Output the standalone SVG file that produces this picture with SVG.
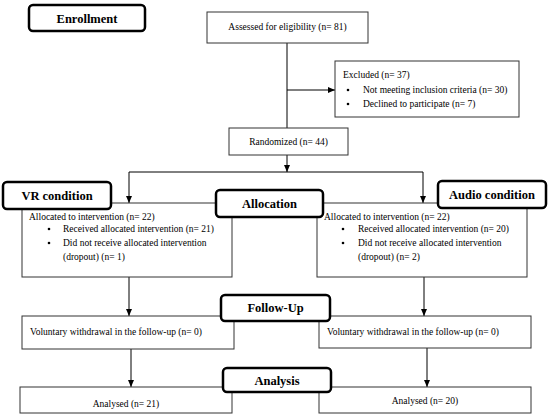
<svg xmlns="http://www.w3.org/2000/svg" width="550" height="415" viewBox="0 0 550 415">
<defs>
<marker id="arr" markerWidth="8" markerHeight="8" refX="7" refY="4" orient="auto" markerUnits="userSpaceOnUse">
<path d="M0,1 L7,4 L0,7 Z" fill="#000"/>
</marker>
<style>
.box{fill:#fff;stroke:#333;stroke-width:1}
.hdr{fill:#fff;stroke:#000;stroke-width:2.5}
.t{font-family:"Liberation Serif","Times New Roman",serif;font-size:9.5px;fill:#000}
.h{font-family:"Liberation Serif","Times New Roman",serif;font-size:12.5px;font-weight:bold;fill:#000;text-anchor:middle}
.c{text-anchor:middle}
.ln{stroke:#000;stroke-width:1;fill:none}
</style>
</defs>
<rect width="550" height="415" fill="#fff"/>
<g id="connectors">
<line class="ln" x1="287" y1="43" x2="287" y2="128"/>
<line class="ln" x1="287" y1="90" x2="335" y2="90" marker-end="url(#arr)"/>
<line class="ln" x1="287" y1="155" x2="287" y2="172" marker-end="url(#arr)"/>
<polyline class="ln" points="129,172 423,172"/>
<line class="ln" x1="129" y1="172" x2="129" y2="203" marker-end="url(#arr)"/>
<line class="ln" x1="423" y1="172" x2="423" y2="203" marker-end="url(#arr)"/>
<line class="ln" x1="129" y1="277" x2="129" y2="316" marker-end="url(#arr)"/>
<line class="ln" x1="424" y1="277" x2="424" y2="316" marker-end="url(#arr)"/>
<line class="ln" x1="131" y1="349" x2="131" y2="387" marker-end="url(#arr)"/>
<line class="ln" x1="427" y1="348" x2="427" y2="387" marker-end="url(#arr)"/>
</g>
<g id="assessed">
<rect class="box" x="207" y="12" width="161" height="31"/>
<text class="t c" x="287.5" y="30">Assessed for eligibility (n= 81)</text>
</g>
<g id="excluded">
<rect class="box" x="335" y="61" width="184" height="56"/>
<text class="t" x="343" y="78">Excluded (n= 37)</text>
<circle cx="348" cy="90" r="1.3"/>
<text class="t" x="363" y="93">Not meeting inclusion criteria (n= 30)</text>
<circle cx="348" cy="104" r="1.3"/>
<text class="t" x="363" y="107">Declined to participate (n= 7)</text>
</g>
<g id="randomized">
<rect class="box" x="229" y="128" width="119" height="27"/>
<text class="t c" x="288.5" y="145">Randomized (n= 44)</text>
</g>
<g id="vr-alloc">
<rect class="box" x="22" y="203" width="210" height="74"/>
<text class="t" x="29" y="220">Allocated to intervention (n= 22)</text>
<circle cx="49" cy="229" r="1.3"/>
<text class="t" x="63" y="232">Received allocated intervention (n= 21)</text>
<circle cx="49" cy="243" r="1.3"/>
<text class="t" x="63" y="246">Did not receive allocated intervention</text>
<text class="t" x="63" y="260">(dropout) (n= 1)</text>
</g>
<g id="audio-alloc">
<rect class="box" x="317" y="203" width="210" height="74"/>
<text class="t" x="324" y="220">Allocated to intervention (n= 22)</text>
<circle cx="343" cy="229" r="1.3"/>
<text class="t" x="358" y="232">Received allocated intervention (n= 20)</text>
<circle cx="343" cy="243" r="1.3"/>
<text class="t" x="358" y="246">Did not receive allocated intervention</text>
<text class="t" x="358" y="260">(dropout) (n= 2)</text>
</g>
<g id="vr-followup">
<rect class="box" x="22" y="316" width="212" height="33"/>
<text class="t" x="30" y="335">Voluntary withdrawal in the follow-up (n= 0)</text>
</g>
<g id="audio-followup">
<rect class="box" x="319" y="316" width="212" height="32"/>
<text class="t" x="327" y="335">Voluntary withdrawal in the follow-up (n= 0)</text>
</g>
<g id="vr-analysed">
<rect class="box" x="20" y="387" width="212" height="26"/>
<text class="t c" x="126" y="407">Analysed (n= 21)</text>
</g>
<g id="audio-analysed">
<rect class="box" x="319" y="387" width="212" height="26"/>
<text class="t c" x="425" y="404">Analysed (n= 20)</text>
</g>
<g id="enrollment">
<rect class="hdr" x="29" y="5" width="116" height="26" rx="4"/>
<text class="h" x="87" y="23">Enrollment</text>
</g>
<g id="vr-condition">
<rect class="hdr" x="3" y="182" width="108" height="27" rx="4"/>
<text class="h" x="57" y="200">VR condition</text>
</g>
<g id="allocation">
<rect class="hdr" x="216" y="190" width="107" height="27" rx="4"/>
<text class="h" x="269.5" y="208">Allocation</text>
</g>
<g id="audio-condition">
<rect class="hdr" x="438" y="181" width="108" height="27" rx="4"/>
<text class="h" x="492" y="199">Audio condition</text>
</g>
<g id="follow-up">
<rect class="hdr" x="221" y="295" width="109" height="26" rx="4"/>
<text class="h" x="275.5" y="312">Follow-Up</text>
</g>
<g id="analysis">
<rect class="hdr" x="223" y="368" width="108" height="24" rx="4"/>
<text class="h" x="277" y="385">Analysis</text>
</g>
</svg>
